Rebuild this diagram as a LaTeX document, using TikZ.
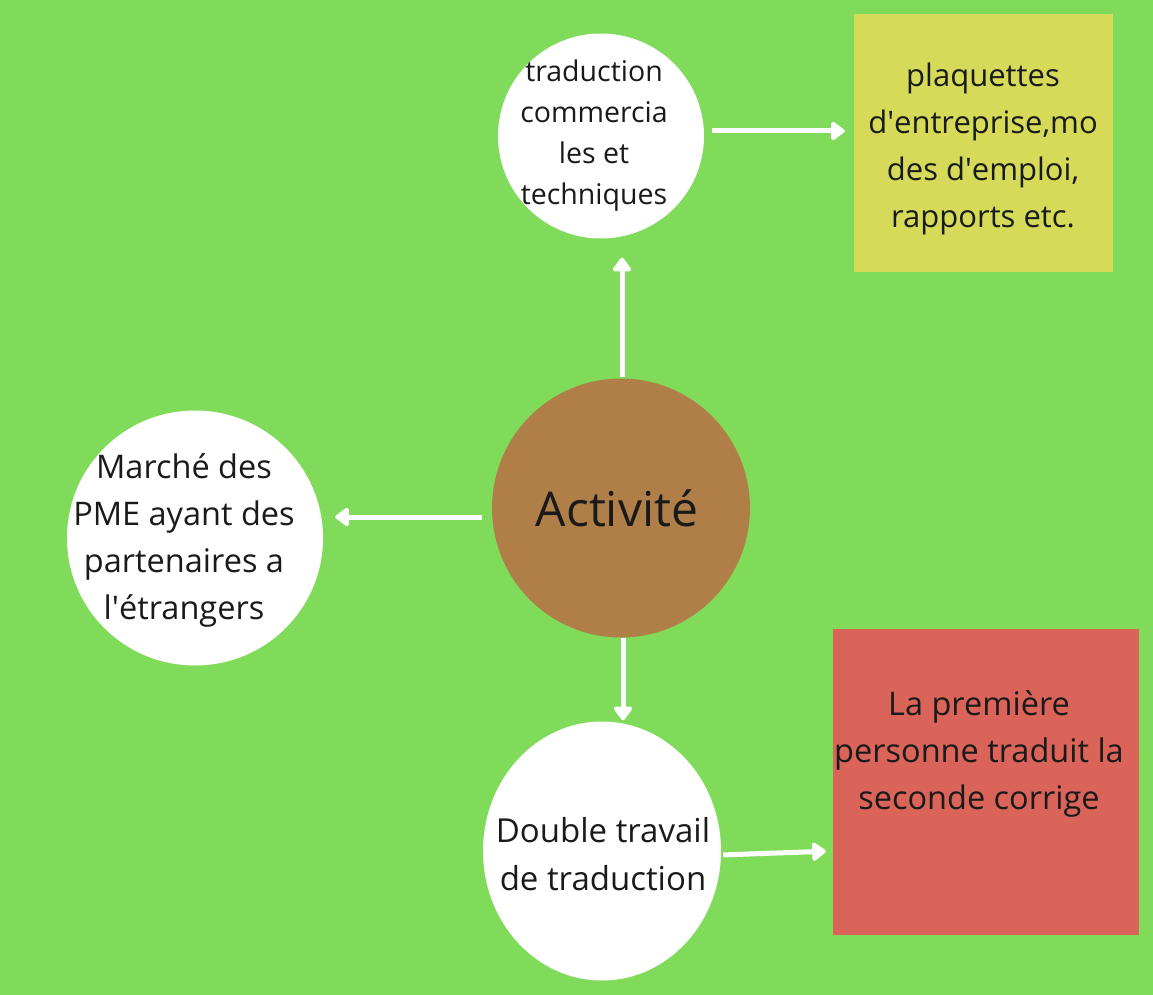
\documentclass[tikz,border=0pt]{standalone}
\usepackage{fontspec}
\setmainfont{Open Sans}
\usetikzlibrary{arrows.meta,shapes.geometric,calc}
\definecolor{bg}{HTML}{80DB5A}
\definecolor{yel}{HTML}{D5DB59}
\definecolor{redbox}{HTML}{DA6459}
\definecolor{brown}{HTML}{B07F48}
\definecolor{ink}{HTML}{1A1A1A}
\newcommand{\apos}{\textquotesingle}
\tikzset{
  bubble/.style={ellipse, fill=white, inner sep=0pt},
  panel/.style={rectangle, inner sep=0pt},
  label/.style={align=center, text=ink, inner sep=0pt, font=\fontsize{28.5}{41}\selectfont},
  biglabel/.style={align=center, text=ink, inner sep=0pt, font=\fontsize{31}{47}\selectfont},
  arr/.style={draw=white, line width=5pt, -{Triangle[length=15pt,width=21pt,round]}}
}
\begin{document}
\begin{tikzpicture}[x=1pt,y=-1pt]
\fill[bg] (0,0) rectangle (1153,995);
\useasboundingbox (0,0) rectangle (1153,995);
% shapes
\node[bubble, minimum width=206pt, minimum height=205pt] (top) at (601,136) {};
\node[panel, fill=yel, minimum width=259pt, minimum height=258pt] (yelbox) at (983.5,143) {};
\node[ellipse, fill=brown, inner sep=0pt, minimum width=258pt, minimum height=259pt] (act) at (621,508) {};
\node[bubble, minimum width=256pt, minimum height=255pt] (mkt) at (195,538) {};
\node[bubble, minimum width=238pt, minimum height=259pt] (dbl) at (602,851) {};
\node[panel, fill=redbox, minimum width=306pt, minimum height=306pt] (red) at (986,782) {};
% texts
\node[label] (ttop) at (594,136) {traduction\\commercia\\les et\\techniques};
\node[biglabel] (tyel) at (983,149) {plaquettes\\d\apos entreprise,mo\\des d\apos emploi,\\rapports etc.};
\node[text=ink, inner sep=0pt, font=\fontsize{48}{58}\selectfont] (tact) at (617,508) {Activité};
\node[biglabel, font=\fontsize{32.5}{47}\selectfont] (tmkt) at (184,540) {Marché des\\PME ayant des\\partenaires a\\l\apos étrangers};
\node[biglabel, font=\fontsize{33}{48}\selectfont] (tdbl) at (603,854) {Double travail\\de traduction};
\node[biglabel, font=\fontsize{32.5}{47}\selectfont] (tred) at (979,754) {La première\\personne traduit la\\seconde corrige};
% connectors
\draw[arr, shorten <=8pt, shorten >=9pt] ([yshift=5pt]top.east) -- ([yshift=5pt]top.east -| yelbox.west);
\draw[arr, shorten <=1pt, shorten >=19pt] ([xshift=1pt]act.north) -- ([xshift=1pt]act.north |- top.south);
\draw[arr, shorten <=10pt, shorten >=12pt] ([yshift=-9pt]act.west) -- ([yshift=-9pt]act.west -| mkt.east);
\draw[arr, shorten <=0pt, shorten >=1pt] ([xshift=2pt]act.south) -- ([xshift=2pt]act.south |- dbl.north);
\draw[arr, shorten <=2pt, shorten >=7pt] ([yshift=-4pt]dbl.east) -- (dbl.east -| red.west);
\end{tikzpicture}
\end{document}
